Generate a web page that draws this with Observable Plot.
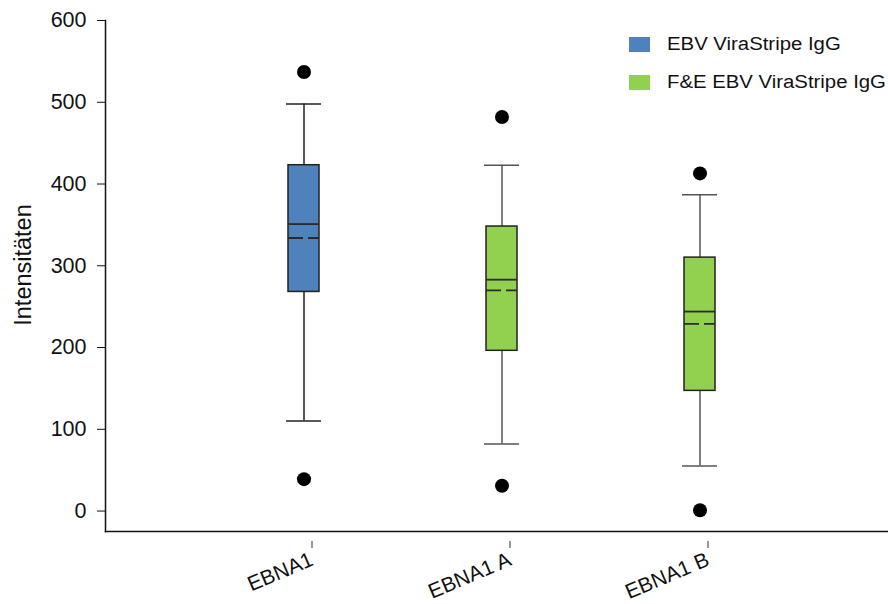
<!DOCTYPE html>
<html>
<head>
<meta charset="utf-8">
<script src="https://cdn.jsdelivr.net/npm/d3@7"></script>
<script src="https://cdn.jsdelivr.net/npm/@observablehq/plot@0.6"></script>
<style>
  html, body { margin: 0; padding: 0; background: #fff; }
  #wrap { position: relative; width: 888px; height: 604px; font-family: "Liberation Sans", Arial, sans-serif; }
  #legend { position: absolute; left: 629px; top: 33px; }
  .row { display: flex; align-items: center; height: 23px; margin-bottom: 15px; }
  .sw { width: 21px; height: 15px; margin-right: 17px; }
  .lab { font-size: 18px; color: #111; white-space: nowrap; transform: scaleX(1.13); transform-origin: left center; }
</style>
</head>
<body>
<div id="wrap"></div>
<script>
// Categories and the series each box belongs to
const categories = ["EBNA1", "EBNA1 A", "EBNA1 B"];
const seriesOf = ["EBV ViraStripe IgG", "F&E EBV ViraStripe IgG", "F&E EBV ViraStripe IgG"];
const seriesNames = ["EBV ViraStripe IgG", "F&E EBV ViraStripe IgG"];
const seriesColors = ["#4f81bd", "#92d050"];

// Box-plot summary statistics per category
const q1 = [268, 196, 147];
const median = [351, 283, 244];
const q3 = [423, 348, 310];
const mean = [334, 270, 229];
const whiskerLow = [110, 82, 55];
const whiskerHigh = [498, 423, 387];
const outlierLow = [39, 31, 1];
const outlierHigh = [537, 482, 413];

const yTicks = [0, 100, 200, 300, 400, 500, 600];

const rows = categories.map((c, i) => ({
  category: c,
  series: seriesOf[i],
  q1: q1[i], median: median[i], q3: q3[i], mean: mean[i],
  lo: whiskerLow[i], hi: whiskerHigh[i]
}));
const outliers = categories.flatMap((c, i) => [
  {category: c, value: outlierLow[i]},
  {category: c, value: outlierHigh[i]}
]);
const whiskerColor = (d) => d.series === seriesNames[0] ? "#222" : "#555";

const chart = Plot.plot({
  width: 888,
  height: 604,
  marginLeft: 105,
  marginRight: 0,
  marginTop: 20,
  marginBottom: 73,
  style: {fontFamily: "'Liberation Sans', Arial, sans-serif", fontSize: "21px", color: "#111", background: "#fff"},
  x: {type: "band", domain: categories, range: [205, 799], paddingInner: 0.843, paddingOuter: 0.4215, label: null},
  y: {domain: [-25, 600], label: null},
  color: {domain: seriesNames, range: seriesColors},
  marks: [
    Plot.frame({anchor: "left", stroke: "#111", strokeWidth: 1.5}),
    Plot.frame({anchor: "bottom", stroke: "#111", strokeWidth: 1.5}),
    Plot.axisY({ticks: yTicks, tickSize: 8, tickPadding: 11, fontSize: 21.5, label: null, stroke: "#111"}),
    Plot.axisX({tickSize: 7, tickPadding: 10, tickRotate: -23, fontSize: 21, label: null, dx: 8, dy: 10, stroke: "#333"}),
    Plot.text(["Intensitäten"], {frameAnchor: "left", textAnchor: "middle", rotate: -90, dx: -82, dy: -11, fontSize: 23.5, fill: "#111"}),
    // whiskers
    Plot.ruleX(rows, {x: "category", y1: "q3", y2: "hi", stroke: whiskerColor, strokeWidth: 1.5}),
    Plot.ruleX(rows, {x: "category", y1: "q1", y2: "lo", stroke: whiskerColor, strokeWidth: 1.5}),
    Plot.tickY(rows, {x: "category", y: "hi", stroke: whiskerColor, strokeWidth: 1.5, insetLeft: -2, insetRight: -2}),
    Plot.tickY(rows, {x: "category", y: "lo", stroke: whiskerColor, strokeWidth: 1.5, insetLeft: -2, insetRight: -2}),
    // boxes
    Plot.barY(rows, {x: "category", y1: "q1", y2: "q3", fill: "series", stroke: "#222", strokeWidth: 1.5}),
    // median (solid) and mean (dashed)
    Plot.tickY(rows, {x: "category", y: "median", stroke: "#2a2a2a", strokeWidth: 1.8}),
    Plot.tickY(rows, {x: "category", y: "mean", stroke: "#2a2a2a", strokeWidth: 1.8, strokeDasharray: "15,5"}),
    // outliers
    Plot.dot(outliers, {x: "category", y: "value", r: 7, fill: "#000"})
  ]
});

const wrap = document.getElementById("wrap");
wrap.appendChild(chart);

// legend
const legend = document.createElement("div");
legend.id = "legend";
seriesNames.forEach((name, i) => {
  const row = document.createElement("div");
  row.className = "row";
  const sw = document.createElement("div");
  sw.className = "sw";
  sw.style.background = seriesColors[i];
  const lab = document.createElement("div");
  lab.className = "lab";
  lab.textContent = name;
  row.appendChild(sw);
  row.appendChild(lab);
  legend.appendChild(row);
});
wrap.appendChild(legend);
</script>
</body>
</html>
